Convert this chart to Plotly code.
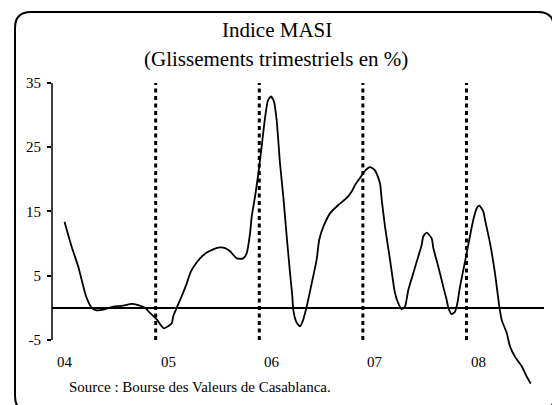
import plotly.graph_objects as go

# ---- Data ----
titre = "Indice MASI"
sous_titre = "(Glissements trimestriels en %)"
source = "Source : Bourse des Valeurs de Casablanca."

annees = [2004.000, 2004.069, 2004.133, 2004.208, 2004.263, 2004.311, 2004.375, 2004.471,
          2004.552, 2004.649, 2004.712, 2004.777, 2004.825, 2004.890, 2004.960, 2005.035,
          2005.050, 2005.083, 2005.131, 2005.180, 2005.218, 2005.260, 2005.308, 2005.373,
          2005.436, 2005.501, 2005.549, 2005.598, 2005.662, 2005.726, 2005.759, 2005.791,
          2005.807, 2005.839, 2005.871, 2005.903, 2005.935, 2005.964, 2005.993, 2006.022,
          2006.048, 2006.080, 2006.112, 2006.145, 2006.177, 2006.199, 2006.208, 2006.235,
          2006.273, 2006.299, 2006.338, 2006.386, 2006.434, 2006.459, 2006.498, 2006.563,
          2006.643, 2006.724, 2006.772, 2006.804, 2006.852, 2006.900, 2006.948, 2006.997,
          2007.045, 2007.062, 2007.094, 2007.142, 2007.190, 2007.222, 2007.255, 2007.287,
          2007.319, 2007.367, 2007.415, 2007.448, 2007.463, 2007.496, 2007.544, 2007.560,
          2007.608, 2007.656, 2007.689, 2007.705, 2007.737, 2007.769, 2007.792, 2007.818,
          2007.866, 2007.907, 2007.946, 2007.979, 2008.004, 2008.042, 2008.059, 2008.107,
          2008.155, 2008.197, 2008.220, 2008.268, 2008.300, 2008.348, 2008.413, 2008.461,
          2008.500]

glissements = [13.4, 9.5, 6.4, 1.8, 0.0, -0.4, -0.3, 0.2,
               0.3, 0.6, 0.4, 0.0, -0.8, -1.8, -3.2, -2.4,
               -1.3, 0.0, 1.8, 3.8, 5.6, 6.7, 7.7, 8.6,
               9.1, 9.4, 9.3, 8.8, 7.7, 7.7, 8.5, 11.6,
               14.2, 17.3, 20.9, 25.1, 29.5, 32.3, 32.9, 32.1,
               29.2, 22.5, 17.3, 11.1, 5.4, 1.8, -0.3, -2.1,
               -2.9, -2.1, 0.2, 3.8, 7.5, 10.6, 12.6, 14.7,
               16.0, 17.1, 18.1, 19.1, 20.2, 21.3, 21.9, 21.4,
               19.4, 16.8, 12.6, 7.5, 2.3, 0.7, -0.2, 0.2,
               2.8, 5.4, 8.0, 9.8, 11.1, 11.7, 10.8, 9.3,
               6.4, 3.3, 1.2, 0.0, -1.0, -0.6, 0.7, 3.3,
               7.2, 10.6, 13.7, 15.5, 15.9, 15.0, 13.7, 10.1,
               5.4, 0.2, -1.9, -3.9, -6.0, -7.6, -9.1, -10.7,
               -11.8]

annees_labels = [2004, 2005, 2006, 2007, 2008]
labels_x = ["04", "05", "06", "07", "08"]
separateurs = [2004.88, 2005.88, 2006.88, 2007.88]
y_ticks = [-5, 5, 15, 25, 35]

# ---- Layout geometry ----
# The page body has an 8px margin, so the figure is shrunk and
# all page-pixel positions are shifted by that offset.
OFF = 8
W, H = 560 - OFF, 405 - OFF
L, R, T, B = 52 - OFF, 544 - OFF, 83 - OFF, 390 - OFF
FONT = "Liberation Serif"


def xp(px):
    """page pixel x -> paper coordinate"""
    return (px - OFF - L) / (R - L)


def yp(py):
    """page pixel y -> paper coordinate"""
    return (B - (py - OFF)) / (B - T)


fig = go.Figure()
fig.add_trace(go.Scatter(
    x=annees, y=glissements, mode="lines",
    line=dict(color="black", width=1.8, shape="spline", smoothing=0.6),
    hoverinfo="skip", showlegend=False,
))

shapes = []
# dotted year separators
for s in separateurs:
    shapes.append(dict(type="line", xref="x", yref="y", x0=s, x1=s, y0=-5, y1=35,
                       line=dict(color="black", width=3, dash="4px,3.5px")))
# y axis line (only from -5 to 35)
shapes.append(dict(type="line", xref="paper", yref="y", x0=0, x1=0, y0=-5, y1=35,
                   line=dict(color="black", width=1.5)))
# rounded frame (page pixels)
x0, x1, y0, y1, r = 15, 554, 12, 412, 16
pts = [
    ("M", [(x0 + r, y0)]),
    ("L", [(x1 - r, y0)]),
    ("Q", [(x1, y0), (x1, y0 + r)]),
    ("L", [(x1, y1 - r)]),
    ("Q", [(x1, y1), (x1 - r, y1)]),
    ("L", [(x0 + r, y1)]),
    ("Q", [(x0, y1), (x0, y1 - r)]),
    ("L", [(x0, y0 + r)]),
    ("Q", [(x0, y0), (x0 + r, y0)]),
]
path = ""
for cmd, ps in pts:
    path += cmd + " " + " ".join(f"{xp(a):.5f},{yp(b):.5f}" for a, b in ps) + " "
path += "Z"
shapes.append(dict(type="path", xref="paper", yref="paper", path=path,
                   line=dict(color="black", width=2), fillcolor="rgba(0,0,0,0)"))

annotations = [
    dict(text=titre, xref="paper", yref="paper", x=xp(277), y=yp(30),
         showarrow=False, xanchor="center", yanchor="middle",
         font=dict(family=FONT, size=21, color="black")),
    dict(text=sous_titre, xref="paper", yref="paper", x=xp(276), y=yp(59),
         showarrow=False, xanchor="center", yanchor="middle",
         font=dict(family=FONT, size=21, color="black")),
    dict(text=source, xref="paper", yref="paper", x=xp(67), y=yp(387),
         showarrow=False, xanchor="left", yanchor="middle",
         font=dict(family=FONT, size=15, color="black")),
]
for a, lab in zip(annees_labels, labels_x):
    annotations.append(dict(text=lab, xref="x", yref="paper", x=a, y=yp(362),
                            showarrow=False, xanchor="center", yanchor="middle",
                            font=dict(family=FONT, size=15, color="black")))

fig.update_layout(
    width=W, height=H,
    margin=dict(l=L, r=W - R, t=T, b=H - B, pad=0),
    paper_bgcolor="white", plot_bgcolor="white",
    shapes=shapes, annotations=annotations,
    xaxis=dict(range=[2004 + (52 - 64.5) / 103.6, 2004 + (544 - 64.5) / 103.6],
               visible=False, fixedrange=True),
    yaxis=dict(range=[-12.8, 35], tickvals=y_ticks, ticktext=[str(v) for v in y_ticks],
               ticks="outside", ticklen=4, tickwidth=1.5, tickcolor="black",
               showgrid=False, showline=False,
               zeroline=True, zerolinecolor="black", zerolinewidth=2,
               tickfont=dict(family=FONT, size=15, color="black"),
               ticklabelstandoff=3, fixedrange=True),
    showlegend=False,
)

fig.write_html("out.html")
